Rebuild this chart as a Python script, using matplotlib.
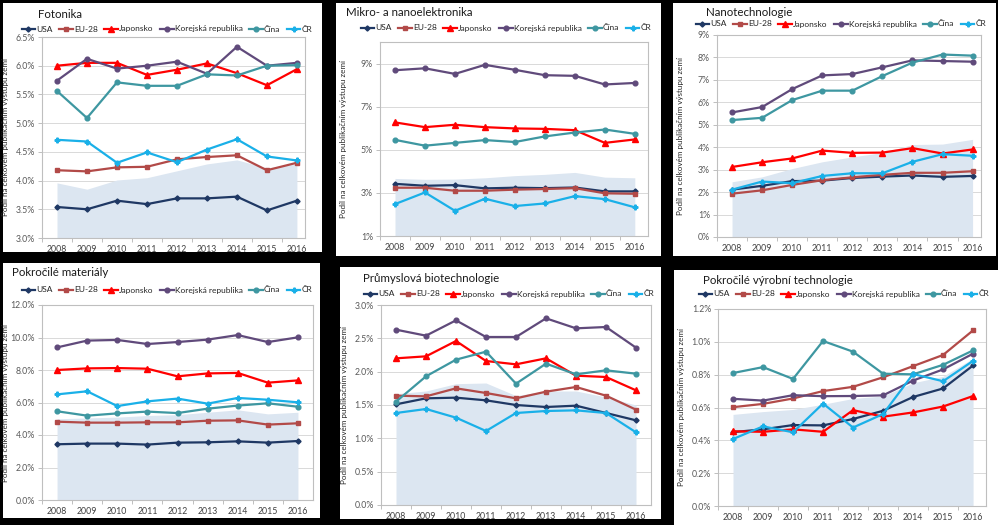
import matplotlib
matplotlib.use('Agg')
import matplotlib.pyplot as plt
from matplotlib.patches import Rectangle
from matplotlib.ticker import FuncFormatter, FixedLocator

plt.rcParams['font.family'] = ['Lato', 'DejaVu Sans']

years = ['2008', '2009', '2010', '2011', '2012', '2013', '2014', '2015', '2016']
countries = ['USA', 'EU-28', 'Japonsko', 'Korejská republika', 'Čína', 'ČR']
ylabel = 'Podíl na celkovém publikačním výstupu zemí'

# hodnoty v %
fotonika = [
    [3.54, 3.50, 3.65, 3.59, 3.69, 3.69, 3.72, 3.48, 3.65],
    [4.18, 4.16, 4.23, 4.24, 4.37, 4.41, 4.44, 4.18, 4.31],
    [6.00, 6.05, 6.05, 5.84, 5.93, 6.04, 5.87, 5.66, 5.94],
    [5.74, 6.12, 5.95, 6.00, 6.07, 5.86, 6.33, 6.00, 6.05],
    [5.56, 5.09, 5.71, 5.65, 5.65, 5.85, 5.83, 6.00, 6.01],
    [4.71, 4.68, 4.31, 4.49, 4.32, 4.54, 4.72, 4.42, 4.35],
]
fotonika_area = [3.96, 3.85, 4.01, 4.05, 4.17, 4.29, 4.36, 4.22, 4.29]

mikro = [
    [3.42, 3.33, 3.36, 3.21, 3.24, 3.22, 3.25, 3.07, 3.07],
    [3.24, 3.24, 3.10, 3.10, 3.15, 3.18, 3.22, 2.98, 2.96],
    [6.27, 6.05, 6.16, 6.05, 5.99, 5.97, 5.91, 5.32, 5.48],
    [8.69, 8.78, 8.52, 8.94, 8.71, 8.46, 8.43, 8.03, 8.10],
    [5.46, 5.19, 5.32, 5.45, 5.36, 5.62, 5.80, 5.94, 5.74],
    [2.48, 3.02, 2.17, 2.73, 2.39, 2.51, 2.85, 2.71, 2.33],
]
mikro_area = [3.67, 3.63, 3.64, 3.70, 3.80, 3.86, 3.95, 3.73, 3.70]

nano = [
    [2.11, 2.28, 2.49, 2.51, 2.63, 2.69, 2.74, 2.68, 2.72],
    [1.93, 2.08, 2.32, 2.53, 2.66, 2.77, 2.86, 2.86, 2.93],
    [3.12, 3.33, 3.50, 3.85, 3.75, 3.76, 3.96, 3.72, 3.90],
    [5.55, 5.79, 6.59, 7.20, 7.26, 7.56, 7.87, 7.84, 7.81],
    [5.21, 5.31, 6.10, 6.52, 6.52, 7.17, 7.77, 8.13, 8.08],
    [2.11, 2.47, 2.40, 2.72, 2.84, 2.84, 3.35, 3.69, 3.62],
]
nano_area = [2.46, 2.68, 3.05, 3.35, 3.57, 3.76, 4.12, 4.14, 4.35]

materialy = [
    [3.43, 3.47, 3.47, 3.41, 3.53, 3.55, 3.61, 3.53, 3.63],
    [4.82, 4.76, 4.76, 4.78, 4.78, 4.88, 4.90, 4.64, 4.72],
    [8.00, 8.10, 8.12, 8.08, 7.61, 7.79, 7.82, 7.22, 7.36],
    [9.39, 9.81, 9.85, 9.60, 9.72, 9.87, 10.15, 9.72, 10.01],
    [5.46, 5.19, 5.33, 5.44, 5.35, 5.62, 5.81, 5.95, 5.74],
    [6.50, 6.69, 5.78, 6.07, 6.24, 5.93, 6.28, 6.17, 6.01],
]
materialy_area = [5.00, 5.05, 5.10, 5.20, 5.25, 5.40, 5.55, 5.30, 5.40]

biotech = [
    [1.51, 1.60, 1.61, 1.57, 1.50, 1.47, 1.49, 1.38, 1.27],
    [1.64, 1.63, 1.75, 1.68, 1.60, 1.70, 1.77, 1.64, 1.43],
    [2.20, 2.23, 2.46, 2.16, 2.11, 2.20, 1.94, 1.92, 1.72],
    [2.63, 2.54, 2.77, 2.52, 2.52, 2.80, 2.65, 2.67, 2.36],
    [1.55, 1.93, 2.18, 2.30, 1.82, 2.12, 1.96, 2.02, 1.97],
    [1.38, 1.44, 1.31, 1.11, 1.38, 1.41, 1.42, 1.38, 1.09],
]
biotech_area = [1.67, 1.71, 1.82, 1.83, 1.64, 1.71, 1.71, 1.62, 1.50]

vyroba = [
    [0.450, 0.467, 0.493, 0.491, 0.530, 0.580, 0.664, 0.716, 0.856],
    [0.602, 0.622, 0.655, 0.700, 0.726, 0.784, 0.852, 0.920, 1.070],
    [0.455, 0.452, 0.467, 0.452, 0.584, 0.544, 0.570, 0.606, 0.670],
    [0.653, 0.642, 0.675, 0.669, 0.670, 0.674, 0.764, 0.832, 0.928],
    [0.810, 0.846, 0.774, 1.005, 0.940, 0.806, 0.802, 0.860, 0.948],
    [0.408, 0.485, 0.449, 0.624, 0.478, 0.560, 0.804, 0.760, 0.884],
]
vyroba_area = [0.558, 0.575, 0.588, 0.620, 0.655, 0.670, 0.750, 0.790, 0.900]

colors = ['#1F3864', '#B24A48', '#FF0000', '#604A7B', '#3E97A1', '#1AB0E8']
markers = ['D', 's', '^', 'o', 'o', 'P']
msizes = [2.6, 3.4, 3.8, 3.4, 3.4, 3.4]

W, H = 998, 525
fig = plt.figure(figsize=(W / 100, H / 100), dpi=100, facecolor='black')


def fbox(x0, y0, x1, y1):
    return [x0 / W, 1 - y1 / H, (x1 - x0) / W, (y1 - y0) / H]


panels = [
    # title, data, area, panel box, plot box, ylim, yticks, fmt, title pos, legend pos, xmax
    ('Fotonika', fotonika, fotonika_area, (3, 3, 322, 252), (42, 37, 305, 238),
     (3.0, 6.5), [3.0, 3.5, 4.0, 4.5, 5.0, 5.5, 6.0, 6.5], '{:.1f}%', (38, 15), (167, 29), 8.27),
    ('Mikro- a nanoelektronika', mikro, mikro_area, (336, 3, 661, 256), (380, 42, 648, 236),
     (1, 10), [1, 3, 5, 7, 9], '{:.0f}%', (346, 12), (506, 28), 8.44),
    ('Nanotechnologie', nano, nano_area, (673, 3, 996, 256), (717, 35, 981, 237),
     (0, 9), list(range(0, 10)), '{:.0f}%', (706, 12), (841, 24), 8.28),
    ('Pokročilé materiály', materialy, materialy_area, (3, 263, 320, 518), (42, 305, 313, 500),
     (0, 12), [0, 2, 4, 6, 8, 10, 12], '{:.1f}%', (12, 273), (167, 290), 8.5),
    ('Průmyslová biotechnologie', biotech, biotech_area, (340, 267, 661, 519), (381, 305, 651, 505),
     (0, 3.0), [0, 0.5, 1.0, 1.5, 2.0, 2.5, 3.0], '{:.1f}%', (363, 279), (509, 294), 8.5),
    ('Pokročilé výrobní technologie', vyroba, vyroba_area, (674, 270, 998, 525), (718, 309, 986, 506),
     (0, 1.2), [0, 0.2, 0.4, 0.6, 0.8, 1.0, 1.2], '{:.1f}%', (703, 281), (844, 294), 8.43),
]

x = list(range(len(years)))

for (title, data, area, pbox, abox, ylim, yticks, fmt, tpos, lpos, xmax) in panels:
    fig.add_artist(Rectangle((pbox[0] / W, 1 - pbox[3] / H), (pbox[2] - pbox[0]) / W,
                             (pbox[3] - pbox[1]) / H, transform=fig.transFigure,
                             facecolor='white', edgecolor='none', zorder=0))
    ax = fig.add_axes(fbox(*abox))
    ax.fill_between(x, ylim[0], area, color='#DCE6F1', lw=0, zorder=1)
    for i, name in enumerate(countries):
        ax.plot(x, data[i], color=colors[i], lw=1.6, marker=markers[i], ms=msizes[i],
                mec=colors[i], mfc=colors[i], label=name, zorder=3 + i * 0.1)
    ax.set_xlim(-0.5, xmax)
    ax.set_ylim(*ylim)
    ax.set_yticks(yticks)
    ax.yaxis.set_major_formatter(FuncFormatter(lambda v, p, f=fmt: f.format(v)))
    ax.set_xticks(x)
    ax.set_xticklabels(years)
    ax.xaxis.set_minor_locator(FixedLocator([i - 0.5 for i in range(1, len(years))] + [-0.5]))
    ax.tick_params(axis='x', which='major', length=0, labelsize=6.3, colors='#404040', pad=5)
    ax.tick_params(axis='x', which='minor', length=3, color='#BFBFBF', width=0.7)
    ax.tick_params(axis='y', length=3, labelsize=6.3, colors='#595959', width=0.7, pad=2)
    ax.tick_params(axis='y', color='#BFBFBF')
    ax.grid(axis='y', color='#D9D9D9', lw=0.7)
    ax.set_axisbelow(True)
    for s in ax.spines.values():
        s.set_color('#BFBFBF')
        s.set_linewidth(0.8)
    ax.set_ylabel(ylabel, fontsize=5.8, color='#262626')
    ax.yaxis.set_label_coords(-33 / (abox[2] - abox[0]), 0.5)
    fig.text(tpos[0] / W, 1 - tpos[1] / H, title, fontsize=8.3, color='#1A1A1A',
             ha='left', va='center')
    ax.legend(loc='center', bbox_to_anchor=(lpos[0] / W, 1 - lpos[1] / H),
              bbox_transform=fig.transFigure, ncol=6, frameon=False, fontsize=6.0,
              handlelength=1.6, handletextpad=0.15, columnspacing=0.8, borderpad=0,
              labelcolor='#262626')

fig.savefig('out.png', dpi=100, facecolor='black')
